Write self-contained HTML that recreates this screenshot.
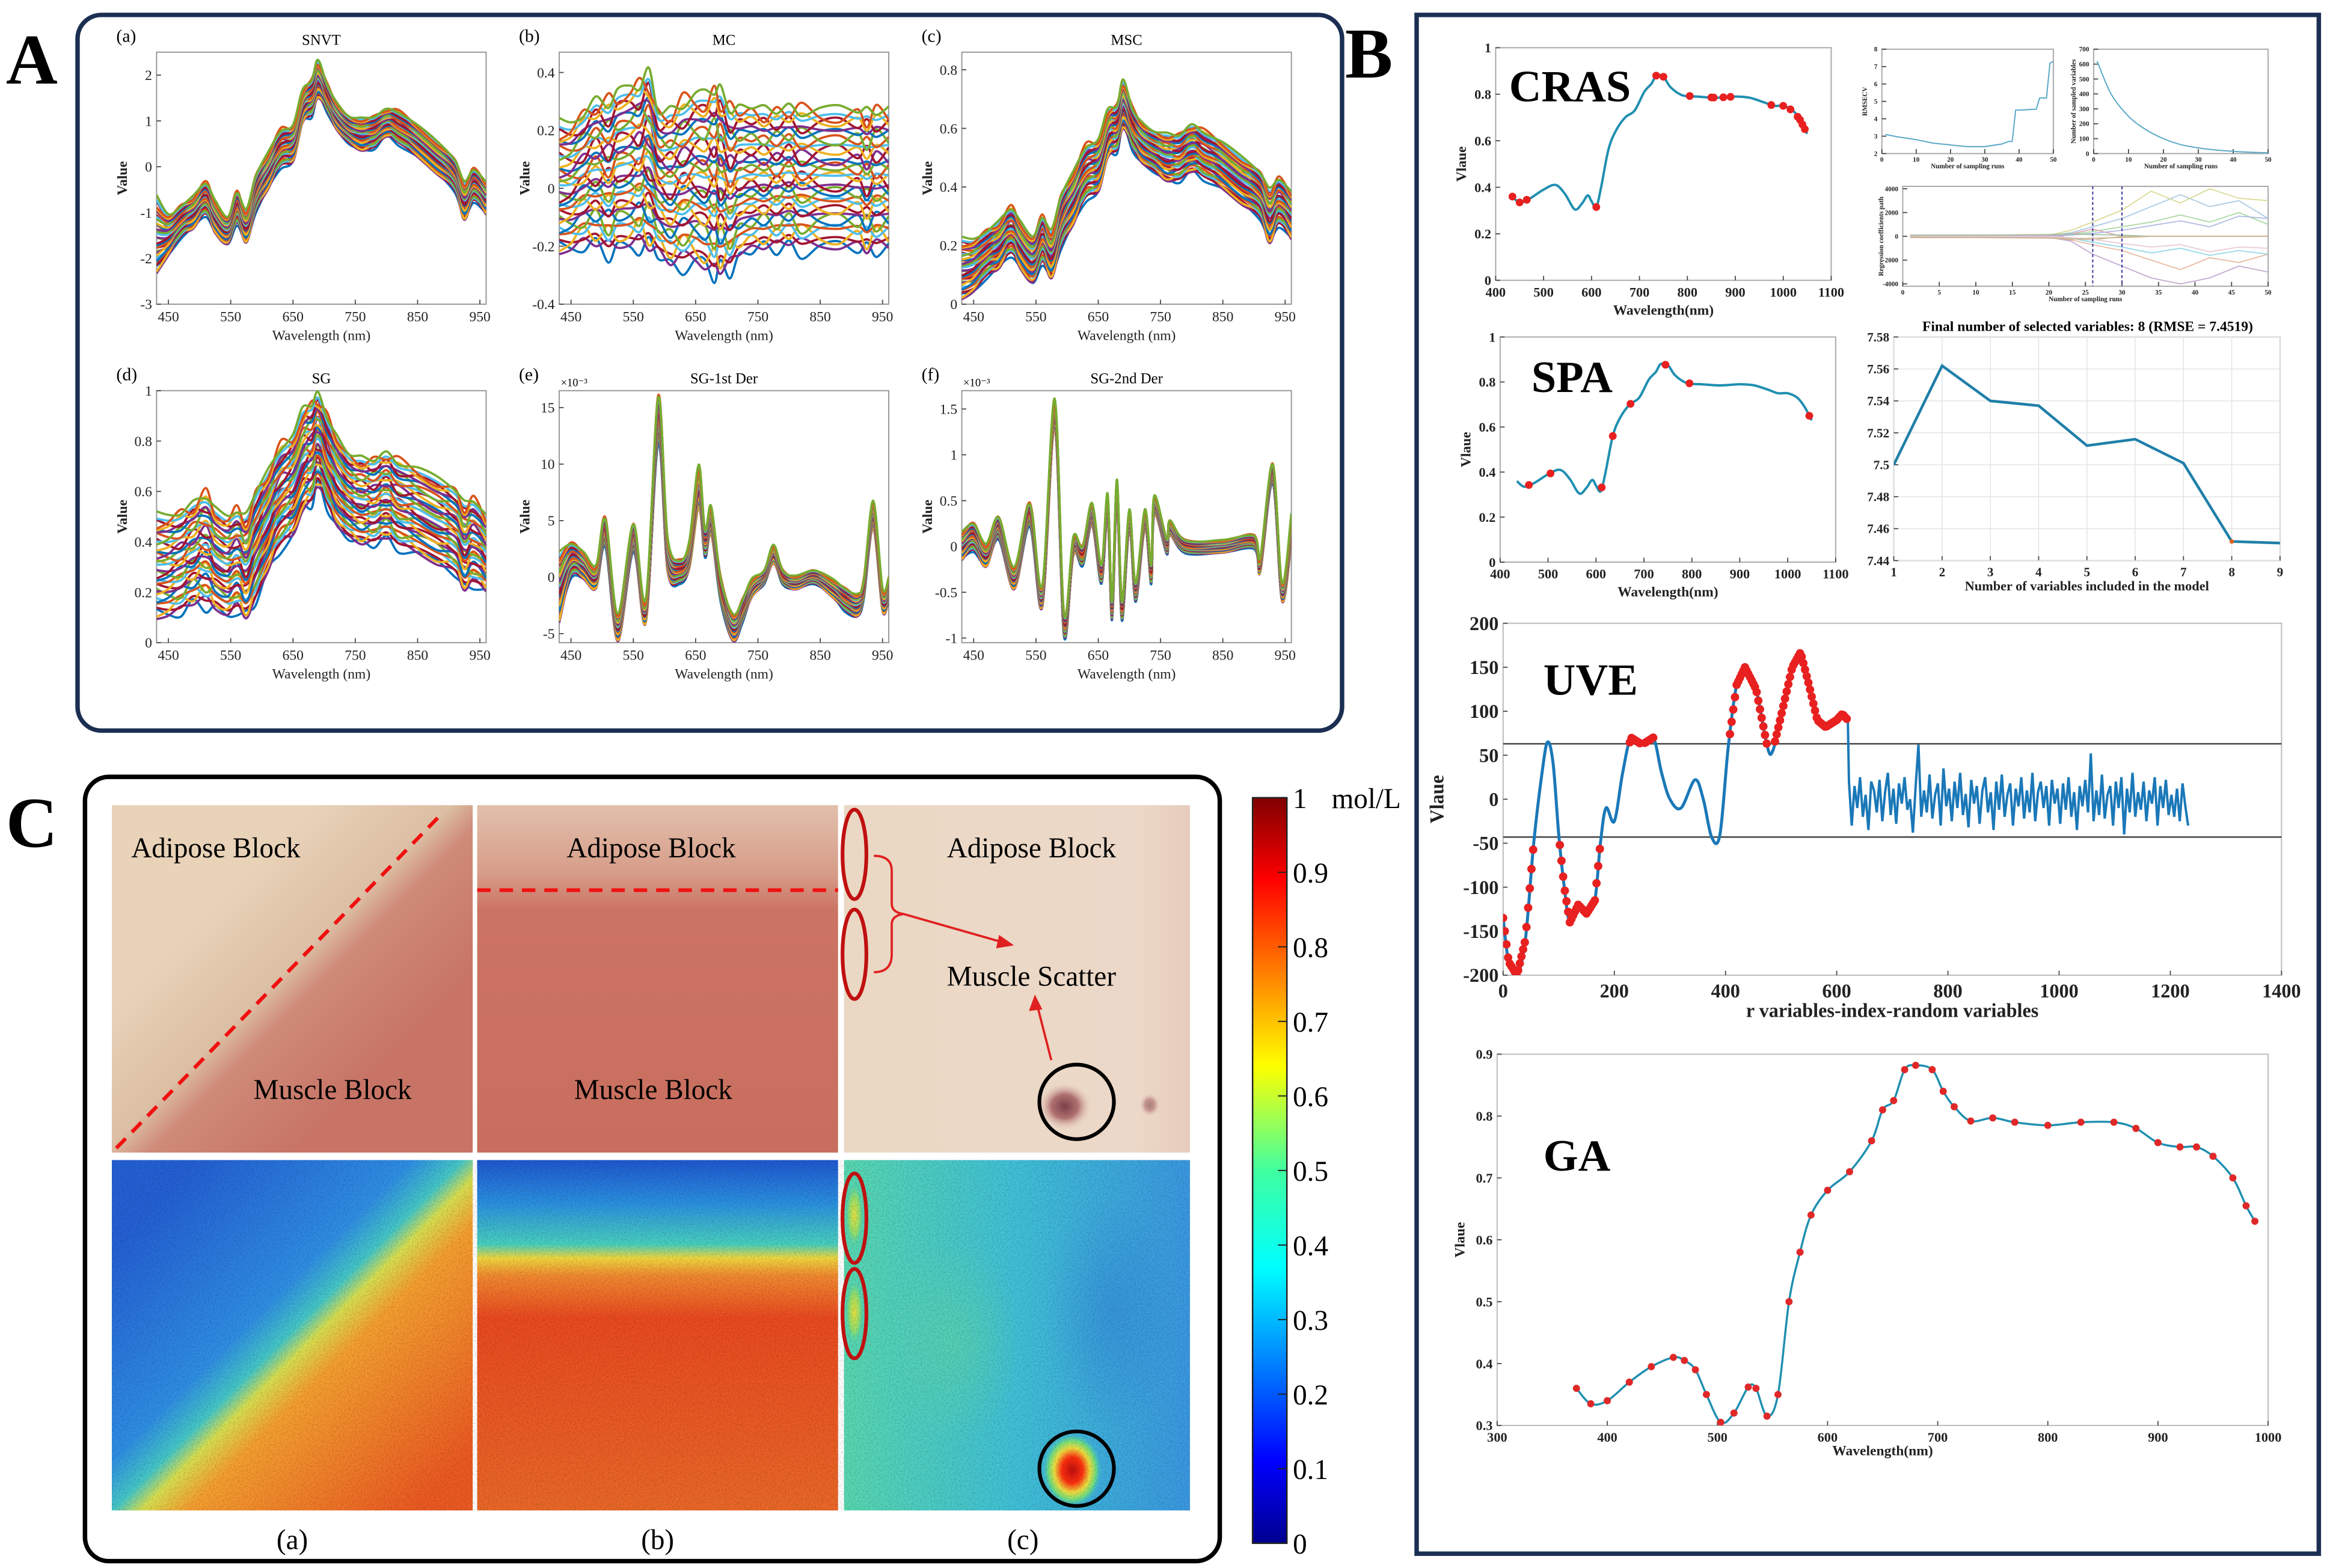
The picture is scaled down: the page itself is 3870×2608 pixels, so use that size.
<!DOCTYPE html>
<html><head><meta charset="utf-8"><title>Spectral preprocessing and variable selection figure</title>
<style>
html,body{margin:0;padding:0;background:#fff;}
svg{display:block;}
text{font-family:"Liberation Serif",serif;}
</style></head>
<body>
<svg id="fig" xmlns="http://www.w3.org/2000/svg" width="3870" height="2608" viewBox="0 0 1560.5 1051.6" preserveAspectRatio="none">
<defs>
<linearGradient id="jet" x1="0" y1="0" x2="0" y2="1">
<stop offset="0" stop-color="#800000"/><stop offset="0.11" stop-color="#ff0000"/><stop offset="0.36" stop-color="#ffff00"/><stop offset="0.5" stop-color="#40ffa0"/><stop offset="0.63" stop-color="#00ffff"/><stop offset="0.89" stop-color="#0000ff"/><stop offset="1" stop-color="#00008f"/>
</linearGradient>
<linearGradient id="hmA" gradientUnits="userSpaceOnUse" x1="110" y1="800" x2="300" y2="990">
<stop offset="0" stop-color="#2460d4"/><stop offset="0.38" stop-color="#2f8ee4"/><stop offset="0.47" stop-color="#45c8c8"/><stop offset="0.52" stop-color="#d8e050"/><stop offset="0.6" stop-color="#f5a030"/><stop offset="1" stop-color="#ec5a22"/>
</linearGradient>
<linearGradient id="hmB" gradientUnits="userSpaceOnUse" x1="0" y1="778" x2="0" y2="1013">
<stop offset="0" stop-color="#1f58d0"/><stop offset="0.12" stop-color="#2a8ee0"/><stop offset="0.24" stop-color="#48d0c0"/><stop offset="0.28" stop-color="#f0d840"/><stop offset="0.33" stop-color="#f28a30"/><stop offset="0.45" stop-color="#ea4a20"/><stop offset="1" stop-color="#ea6828"/>
</linearGradient>
<linearGradient id="hmC" x1="0" y1="0" x2="1" y2="0">
<stop offset="0" stop-color="#58d8b0"/><stop offset="0.5" stop-color="#40c0d8"/><stop offset="1" stop-color="#3a98e0"/>
</linearGradient>
<radialGradient id="hot"><stop offset="0" stop-color="#c01010"/><stop offset="0.35" stop-color="#ff3010"/><stop offset="0.6" stop-color="#f0e040"/><stop offset="0.8" stop-color="#70e080"/><stop offset="1" stop-color="#40c0d8" stop-opacity="0"/></radialGradient>
<radialGradient id="warm"><stop offset="0" stop-color="#e8e040"/><stop offset="0.6" stop-color="#90e070"/><stop offset="1" stop-color="#50d0b0" stop-opacity="0"/></radialGradient>
<radialGradient id="blob"><stop offset="0" stop-color="#60d8a0"/><stop offset="1" stop-color="#60d8a0" stop-opacity="0"/></radialGradient>
<radialGradient id="blueblob"><stop offset="0" stop-color="#2a70d8"/><stop offset="1" stop-color="#2a70d8" stop-opacity="0"/></radialGradient>
<linearGradient id="phA" gradientUnits="userSpaceOnUse" x1="140" y1="610" x2="250" y2="720">
<stop offset="0" stop-color="#e8d2b8"/><stop offset="0.42" stop-color="#dcbfa4"/><stop offset="0.56" stop-color="#cf8a78"/><stop offset="1" stop-color="#c77466"/>
</linearGradient>
<linearGradient id="phB" x1="0" y1="0" x2="0" y2="1">
<stop offset="0" stop-color="#e2c0ac"/><stop offset="0.2" stop-color="#d69c88"/><stop offset="0.3" stop-color="#cc7464"/><stop offset="1" stop-color="#c86e5e"/>
</linearGradient>
<linearGradient id="phC" x1="0" y1="0" x2="1" y2="0">
<stop offset="0" stop-color="#ead8c4"/><stop offset="0.85" stop-color="#ecd8c8"/><stop offset="1" stop-color="#e6ccbc"/>
</linearGradient>
<radialGradient id="spot"><stop offset="0" stop-color="#7a4048"/><stop offset="0.5" stop-color="#b07070"/><stop offset="1" stop-color="#e8d0c0" stop-opacity="0"/></radialGradient>
<filter id="speck" x="0" y="0" width="1" height="1"><feTurbulence type="fractalNoise" baseFrequency="0.9" numOctaves="1" result="n"/><feColorMatrix in="n" type="matrix" values="0 0 0 0 0  0 0 0 0 0  0 0 0 0 0  0 0 0 1.2 -0.45" result="m"/><feComposite in="m" in2="SourceGraphic" operator="in"/></filter>
</defs>

<rect x="52" y="10" width="848" height="480" rx="16" fill="none" stroke="#1b2f52" stroke-width="3"/>
<text x="4" y="56" font-size="48" font-weight="bold">A</text>
<rect x="950" y="10" width="605" height="1032" fill="none" stroke="#1b2f52" stroke-width="3"/>
<text x="902" y="52" font-size="48" font-weight="bold">B</text>
<rect x="57" y="521" width="761" height="526" rx="16" fill="none" stroke="#000" stroke-width="3"/>
<text x="4" y="568" font-size="48" font-weight="bold">C</text>

<g id="panelC">
<rect x="75" y="540" width="242" height="233" fill="url(#phA)"/>
<rect x="320" y="540" width="242" height="233" fill="url(#phB)"/>
<rect x="566" y="540" width="232" height="233" fill="url(#phC)"/>
<ellipse cx="714" cy="742" rx="18" ry="16" fill="url(#spot)"/>
<ellipse cx="771" cy="741" rx="7" ry="8" fill="url(#spot)" opacity="0.6"/>
<rect x="75" y="778" width="242" height="235" fill="url(#hmA)"/>
<rect x="320" y="778" width="242" height="235" fill="url(#hmB)"/>
<rect x="566" y="778" width="232" height="235" fill="url(#hmC)"/>
<ellipse cx="640" cy="900" rx="45" ry="70" fill="url(#blob)" opacity="0.5"/>
<ellipse cx="745" cy="880" rx="45" ry="80" fill="url(#blueblob)" opacity="0.35"/>
<ellipse cx="719" cy="986" rx="20" ry="25" fill="url(#hot)"/>
<ellipse cx="573" cy="815" rx="6" ry="22" fill="url(#warm)"/>
<ellipse cx="573" cy="880" rx="6" ry="22" fill="url(#warm)"/>
<rect x="75" y="778" width="723" height="235" fill="#ffffff" opacity="0.25" filter="url(#speck)"/>
<line x1="78" y1="770" x2="296" y2="546" stroke="#f01010" stroke-width="2.5" stroke-dasharray="9,6"/>
<line x1="320" y1="597" x2="562" y2="597" stroke="#f01010" stroke-width="2.5" stroke-dasharray="9,6"/>
<ellipse cx="573" cy="573" rx="8" ry="30" fill="none" stroke="#c01010" stroke-width="2.5"/>
<ellipse cx="573" cy="640" rx="8" ry="30" fill="none" stroke="#c01010" stroke-width="2.5"/>
<path d="M586,574 Q598,574 598,584 L598,606 Q598,612 606,613 Q598,614 598,620 L598,640 Q598,652 586,652" fill="none" stroke="#e02020" stroke-width="1.5"/>
<line x1="606" y1="613" x2="676" y2="633" stroke="#e02020" stroke-width="1.5"/>
<path d="M680,634 L670,627 L668,636 Z" fill="#e02020"/>
<line x1="705" y1="711" x2="695" y2="672" stroke="#e02020" stroke-width="1.5"/>
<path d="M694,667 L690,678 L699,677 Z" fill="#e02020"/>
<circle cx="722" cy="739" r="25" fill="none" stroke="#000" stroke-width="2.5"/>
<ellipse cx="573" cy="817" rx="8" ry="30" fill="none" stroke="#c01010" stroke-width="2.5"/>
<ellipse cx="573" cy="881" rx="8" ry="30" fill="none" stroke="#c01010" stroke-width="2.5"/>
<circle cx="722" cy="985" r="25" fill="none" stroke="#000" stroke-width="2.5"/>
<text x="88" y="575" font-size="19">Adipose Block</text>
<text x="170" y="737" font-size="19">Muscle Block</text>
<text x="380" y="575" font-size="19">Adipose Block</text>
<text x="385" y="737" font-size="19">Muscle Block</text>
<text x="635" y="575" font-size="19">Adipose Block</text>
<text x="635" y="661" font-size="19">Muscle Scatter</text>
<text x="196" y="1039" font-size="19" text-anchor="middle">(a)</text>
<text x="441" y="1039" font-size="19" text-anchor="middle">(b)</text>
<text x="686" y="1039" font-size="19" text-anchor="middle">(c)</text>
<rect x="840" y="535" width="23" height="500" fill="url(#jet)" stroke="#222" stroke-width="1"/>
<text x="893" y="542" font-size="19">mol/L</text>
</g>
<g id="cbTicks"></g>
<g id="panelA"></g>
<g id="panelB"></g>
</svg>

<script>
// ---------- DATA ----------
const cbTicks = [1,0.9,0.8,0.7,0.6,0.5,0.4,0.3,0.2,0.1,0];

const wl = [431,450,470,490,510,525,545,560,575,590,610,630,650,665,680,690,705,720,740,760,780,800,820,850,880,910,925,940,960];
const snvtMean = [-1.5,-1.5,-1.2,-1.0,-0.7,-1.1,-1.4,-0.9,-1.3,-0.6,-0.1,0.4,0.5,1.3,1.5,1.9,1.5,1.1,0.8,0.7,0.75,0.95,0.85,0.55,0.2,-0.2,-0.75,-0.4,-0.7];
const snvtSpread = [0.8,0.45,0.35,0.35,0.35,0.35,0.3,0.35,0.35,0.4,0.4,0.4,0.4,0.35,0.4,0.4,0.3,0.3,0.3,0.35,0.35,0.3,0.35,0.35,0.35,0.35,0.4,0.35,0.35];
const wobble = [0.6,0.2,-0.3,0.4,-0.5,0.3,0.1,-0.4,0.5,-0.2,0.3,-0.5,0.2,0.4,-0.3,0.5,-0.4,0.2,-0.1,0.4,-0.3,0.3,-0.5,0.2,0.4,-0.2,0.5,-0.4,0.3];
const mcMean = [0.0,0.0,0.03,0.05,0.04,0.06,0.07,0.08,0.09,0.02,0.0,0.02,0.03,0.02,0.02,0.02,0.0,0.02,0.03,0.03,0.03,0.04,0.03,0.03,0.03,0.03,0.02,0.03,0.03];
const mcSpread = [0.22,0.22,0.23,0.25,0.26,0.27,0.28,0.28,0.3,0.25,0.27,0.28,0.29,0.3,0.32,0.31,0.28,0.26,0.25,0.24,0.24,0.24,0.24,0.24,0.24,0.24,0.24,0.24,0.24];
const mscMean = [0.12,0.13,0.17,0.2,0.25,0.2,0.15,0.22,0.17,0.28,0.36,0.45,0.47,0.58,0.6,0.68,0.6,0.55,0.52,0.5,0.5,0.53,0.51,0.47,0.42,0.37,0.3,0.35,0.3];
const mscSpread = [0.1,0.09,0.08,0.08,0.08,0.08,0.08,0.08,0.08,0.09,0.09,0.09,0.09,0.08,0.08,0.08,0.07,0.07,0.07,0.08,0.08,0.08,0.08,0.08,0.08,0.08,0.09,0.08,0.08];
const sgMean = [0.3,0.3,0.32,0.35,0.37,0.33,0.3,0.33,0.3,0.38,0.48,0.58,0.62,0.72,0.75,0.8,0.72,0.64,0.58,0.56,0.56,0.58,0.55,0.52,0.48,0.44,0.38,0.4,0.35];
const sgSpread = [0.2,0.2,0.2,0.2,0.22,0.2,0.2,0.2,0.2,0.22,0.2,0.2,0.2,0.2,0.2,0.18,0.18,0.18,0.17,0.17,0.17,0.17,0.17,0.17,0.17,0.17,0.17,0.17,0.15];
const d1wl = [431,450,470,490,505,525,550,570,590,605,625,640,655,665,675,690,710,725,740,760,775,790,810,840,870,890,910,920,935,950,960];
const d1Mean = [-1,1.5,1,0,4,-4.5,3.5,-3,14,2,0.5,2,8,3,5,-1,-4.5,-3,-1,0,2,0,-0.5,0,-1,-2,-2.5,-1,5.5,-2,-1];
const d1Spread = [3,1.5,1.2,1,1.2,1.2,1.2,1,2,1.5,1,1.2,1.8,1.2,1.2,1,1.2,1,0.8,0.6,0.8,0.6,0.6,0.6,0.8,1,1,0.8,1.2,1,1];
const d1Wob = [0.5,-0.3,0.2,0.4,-0.4,0.3,-0.2,0.5,-0.3,0.2,-0.4,0.3,0.5,-0.2,0.4,-0.5,0.2,-0.3,0.4,-0.2,0.5,-0.4,0.3,-0.2,0.4,-0.3,0.2,-0.5,0.3,0.4,-0.2];
const d2wl = [431,450,470,490,515,540,560,580,595,610,625,640,655,665,672,680,688,700,710,725,735,740,760,765,790,850,900,910,930,945,960];
const d2Mean = [0,0.1,-0.1,0.2,-0.35,0.35,-0.55,1.45,-0.85,0,-0.1,0.35,-0.3,0.45,-0.7,0.6,-0.7,0.3,-0.5,0.3,-0.3,0.45,0,0.2,0,0,0.05,-0.2,0.8,-0.5,0.2];
const d2Spread = [0.15,0.15,0.12,0.12,0.12,0.12,0.12,0.15,0.12,0.1,0.1,0.12,0.1,0.12,0.1,0.12,0.1,0.1,0.1,0.1,0.1,0.1,0.08,0.08,0.07,0.07,0.07,0.08,0.1,0.1,0.15];
const d2Wob = [0.4,-0.3,0.5,-0.2,0.3,-0.4,0.2,0.5,-0.3,0.4,-0.5,0.2,-0.3,0.4,-0.2,0.5,-0.4,0.3,-0.2,0.4,-0.5,0.3,-0.2,0.4,-0.3,0.2,-0.4,0.5,-0.3,0.2,0.4];
const sampleOffsets = [-1,-0.93,-0.87,-0.8,-0.74,-0.68,-0.62,-0.56,-0.5,-0.44,-0.38,-0.32,-0.27,-0.21,-0.15,-0.1,-0.04,0.02,0.07,0.13,0.19,0.25,0.31,0.37,0.43,0.49,0.55,0.61,0.67,0.73,0.79,0.85,0.9,0.95,1];
const sampleShape = [0.8,-0.5,0.3,-0.9,0.6,-0.2,0.9,-0.7,0.1,0.5,-0.8,0.4,-0.3,0.7,-0.6,0.2,-0.9,0.6,-0.1,0.8,-0.4,0.3,-0.7,0.9,-0.5,0.1,0.6,-0.8,0.4,-0.2,0.7,-0.6,0.3,-0.9,0.5];
const wlTicks = [450,550,650,750,850,950];
const snvtTicks = [-3,-2,-1,0,1,2];
const mcTicks = [-0.4,-0.2,0,0.2,0.4];
const mscTicks = [0,0.2,0.4,0.6,0.8];
const sgTicks = [0,0.2,0.4,0.6,0.8,1];
const d1Ticks = [-5,0,5,10,15];
const d2Ticks = [-1,-0.5,0,0.5,1,1.5];

const specWl = [435,450,470,500,525,545,565,580,592,600,610,620,635,650,670,690,710,725,735,750,765,790,820,860,900,930,960,980,1000,1020,1035,1050];
const specVal = [0.36,0.335,0.35,0.39,0.41,0.37,0.305,0.33,0.365,0.34,0.315,0.40,0.56,0.64,0.70,0.73,0.81,0.845,0.88,0.875,0.83,0.795,0.79,0.785,0.79,0.785,0.765,0.75,0.75,0.73,0.69,0.63];
const crasSel = [435,450,465,610,735,750,805,850,855,875,890,975,1000,1015,1030,1035,1040,1045];
const spaSel = [460,505,612,635,672,745,795,1045];
const specXTicks = [400,500,600,700,800,900,1000,1100];
const specYTicks = [0,0.2,0.4,0.6,0.8,1];

const rmseRuns = [1,5,10,15,20,22,25,30,35,37,38,39,40,45,46,48,49,50];
const rmseVals = [3.1,2.95,2.8,2.6,2.5,2.45,2.4,2.4,2.55,2.7,2.7,4.5,4.5,4.55,5.2,5.2,7.2,7.3];
const nvRuns = [1,5,10,15,20,25,30,35,40,45,50];
const nvVals = [620,400,250,160,100,60,38,24,15,9,5];
const rpRuns = [1,10,20,23,26,30,34,38,42,46,50];
const rp1 = [0,0,50,300,800,1500,2500,3500,2500,3000,1500];
const rp2 = [0,0,-50,-300,-700,-1200,-2000,-2800,-1800,-2200,-1500];
const rp3 = [0,0,100,500,1200,2200,3800,2800,4000,3200,3000];
const rp4 = [0,0,-80,-400,-1500,-2500,-3500,-4000,-3500,-2500,-3000];
const rp5 = [0,0,30,150,400,800,1200,1800,1200,2000,1000];
const rp6 = [0,0,-30,-150,-500,-900,-1400,-1000,-1600,-1200,-1500];
const rp7 = [0,0,60,200,600,0,0,0,0,0,0];
const rp8 = [0,0,-40,-200,-300,0,0,0,0,0,0];
const rp9 = [0,0,20,100,250,500,900,1300,800,1700,1500];
const rp10 = [0,0,-20,-100,-250,-600,-900,-700,-1300,-900,-1000];
const rp11 = [80,100,150,200,150,100,0,0,0,0,0];
const rp12 = [-80,-100,-150,-250,-150,-100,0,0,0,0,0];
const rpCut = [26,30];
const finalN = [1,2,3,4,5,6,7,8,9];
const finalRmse = [7.5,7.562,7.54,7.537,7.512,7.516,7.501,7.452,7.451];

const uveIdx = [0,10,25,40,55,70,80,90,100,110,120,135,150,165,175,185,200,215,230,250,270,285,300,320,345,360,375,390,405,420,435,455,475,485,500,520,535,550,565,580,600,610,620];
const uveVal = [-135,-185,-200,-160,-50,30,65,40,-40,-100,-140,-120,-130,-115,-50,-10,-25,30,70,62,70,30,0,-10,22,0,-43,-40,60,130,150,125,60,55,95,150,167,130,90,82,90,97,90];
const uveNoise = [20,-30,15,-10,25,-20,5,-35,20,10,-15,22,-25,8,30,-18,12,-28,18,-5,25,-12,0,-38,15,62,-20,10,-15,28,-22,5,18,-30,35,-8,12,-25,20,-10,30,-18,6,-32,22,-5,15,-28,10,25,-15,8,-35,20,-12,28,-20,5,18,-30,12,-8,25,-22,10,-15,30,-25,8,20,-10,15,-30,22,-5,12,-28,18,-12,25,-20,8,-35,15,-8,22,-15,52,-25,10,-18,28,-22,5,15,-30,20,-10,25,-40,12,-15,30,-20,8,-12,20,-25,10,-5,25,-30,15,-10,22,-18,5,-20,12,-25,18,-8,-30];
const uveThresh = [63,-43];
const uveXTicks = [0,200,400,600,800,1000,1200,1400];
const uveYTicks = [-200,-150,-100,-50,0,50,100,150,200];

const gaWl = [372,385,400,420,440,460,470,480,490,503,515,528,535,545,555,565,575,585,600,620,640,650,660,670,680,695,705,715,730,750,770,800,830,860,880,900,920,935,950,968,980,988];
const gaVal = [0.36,0.335,0.34,0.37,0.395,0.41,0.405,0.39,0.35,0.305,0.32,0.362,0.36,0.315,0.35,0.5,0.58,0.64,0.68,0.71,0.76,0.81,0.825,0.875,0.882,0.875,0.84,0.815,0.792,0.797,0.79,0.785,0.79,0.79,0.78,0.757,0.75,0.75,0.735,0.70,0.655,0.63];
const gaXTicks = [300,400,500,600,700,800,900,1000];
const gaYTicks = [0.3,0.4,0.5,0.6,0.7,0.8,0.9];

// ---------- HELPERS ----------
const NS = 'http://www.w3.org/2000/svg';
const palette = ['#0072BD','#D95319','#EDB120','#7E2F8E','#77AC30','#4DBEEE','#A2142F'];
const pastel = ['#a8c8e0','#e8b8a0','#d8d890','#c0a8d0','#a8d8a0','#90d8e8','#e0a0b0','#c8c8a0','#b0b8e0','#e8c8d8','#a0c0a0','#d0b090'];
function mk(tag, parent, attrs){ const e = document.createElementNS(NS, tag); for (const k in attrs) e.setAttribute(k, attrs[k]); parent.appendChild(e); return e; }
function smoothPath(pts){
  if (pts.length < 2) return '';
  let d = 'M' + pts[0][0].toFixed(2) + ',' + pts[0][1].toFixed(2);
  for (let i = 0; i < pts.length - 1; i++){
    const p0 = pts[Math.max(0,i-1)], p1 = pts[i], p2 = pts[i+1], p3 = pts[Math.min(pts.length-1,i+2)];
    const c1x = p1[0] + (p2[0]-p0[0])/6, c1y = p1[1] + (p2[1]-p0[1])/6;
    const c2x = p2[0] - (p3[0]-p1[0])/6, c2y = p2[1] - (p3[1]-p1[1])/6;
    d += 'C' + c1x.toFixed(2)+','+c1y.toFixed(2)+' '+c2x.toFixed(2)+','+c2y.toFixed(2)+' '+p2[0].toFixed(2)+','+p2[1].toFixed(2);
  }
  return d;
}
function linPath(pts){ return 'M' + pts.map(p => p[0].toFixed(2)+','+p[1].toFixed(2)).join('L'); }
function interp(xs, ys, x){
  if (x <= xs[0]) return ys[0];
  for (let i = 0; i < xs.length-1; i++) if (x <= xs[i+1]) { const t = (x-xs[i])/(xs[i+1]-xs[i]); return ys[i] + t*(ys[i+1]-ys[i]); }
  return ys[ys.length-1];
}
function fmt(v){ return String(Math.round(v*1000)/1000); }
let clipN = 0;
function axes(parent, o){
  const g = mk('g', parent, {});
  
  
  const sx = v => o.x0 + (v - o.xmin)/(o.xmax - o.xmin)*(o.x1 - o.x0);
  const sy = v => o.y1 - (v - o.ymin)/(o.ymax - o.ymin)*(o.y1 - o.y0);
  const frame = mk('rect', g, {x:o.x0, y:o.y0, width:o.x1-o.x0, height:o.y1-o.y0, fill:'#fff', stroke:o.frameColor||'#555', 'stroke-width':o.sw||0.8});
  
  
  const fw = o.bold ? 'bold' : 'normal';
  o.xt.forEach(t => {
    const X = sx(t);
    if (o.grid) { const gl = mk('line', g, {x1:X, y1:o.y0, x2:X, y2:o.y1, stroke:'#e4e4e4', 'stroke-width':0.6});   }
    const tk = mk('line', g, {x1:X, y1:o.y1, x2:X, y2:o.y1-3, stroke:'#444', 'stroke-width':0.7});
    
    
    const tx = mk('text', g, {x:X, y:o.y1 + o.fs + (o.xpad||2), 'font-size':o.fs, 'text-anchor':'middle', 'font-weight':fw, fill:'#222'});
    tx.textContent = fmt(t);
    
    
  });
  o.yt.forEach(t => {
    const Y = sy(t);
    if (o.grid) { const gl = mk('line', g, {x1:o.x0, y1:Y, x2:o.x1, y2:Y, stroke:'#e4e4e4', 'stroke-width':0.6});   }
    const tk = mk('line', g, {x1:o.x0, y1:Y, x2:o.x0+3, y2:Y, stroke:'#444', 'stroke-width':0.7});
    
    
    const tx = mk('text', g, {x:o.x0 - 3, y:Y + o.fs*0.35, 'font-size':o.fs, 'text-anchor':'end', 'font-weight':fw, fill:'#222'});
    tx.textContent = fmt(t);
    
    
  });
  if (o.xlabel) {
    const xl = mk('text', g, {x:(o.x0+o.x1)/2, y:o.y1 + o.fs*2 + (o.xlpad||5), 'font-size':o.lfs||o.fs, 'text-anchor':'middle', 'font-weight':o.boldLabel?'bold':'normal', fill:'#222'});
    xl.textContent = o.xlabel;
    
    
  }
  if (o.ylabel) {
    const yx = o.x0 - (o.ylx || 22), yy = (o.y0+o.y1)/2;
    const yl = mk('text', g, {x:yx, y:yy, 'font-size':o.lfs||o.fs, 'text-anchor':'middle', 'font-weight':'bold', fill:'#222', transform:'rotate(-90 '+yx+' '+yy+')'});
    yl.textContent = o.ylabel;
    
    
  }
  const id = 'clip' + (clipN++);
  const cp = mk('clipPath', g, {id:id});
  mk('rect', cp, {x:o.x0, y:o.y0, width:o.x1-o.x0, height:o.y1-o.y0});
  const plot = mk('g', g, {'clip-path':'url(#'+id+')'});
  
  
  return {sx, sy, g, plot};
}

// ---------- COLORBAR TICKS ----------
const cbG = document.getElementById('cbTicks');
cbTicks.forEach(v => {
  const y = 1035 - v*500;
  const t = mk('line', cbG, {x1:857, y1:y, x2:863, y2:y, stroke:'#222', 'stroke-width':0.8});
  
  
  const tx = mk('text', cbG, {x:867, y:y+7, 'font-size':19});
  tx.textContent = String(v);
  
  
});

// ---------- PANEL A ----------
const PA = document.getElementById('panelA');
const colL = [105,375,645], rowT = [35,262], W = 221, H = 169;
const specs = [
  {name:'snvt', title:'SNVT', tag:'(a)', c:0, r:0, x:wl, m:snvtMean, s:snvtSpread, w:wobble, ymin:-3, ymax:2.5, yt:snvtTicks},
  {name:'mc', title:'MC', tag:'(b)', c:1, r:0, x:wl, m:mcMean, s:mcSpread, w:wobble, ymin:-0.4, ymax:0.47, yt:mcTicks},
  {name:'msc', title:'MSC', tag:'(c)', c:2, r:0, x:wl, m:mscMean, s:mscSpread, w:wobble, ymin:0, ymax:0.86, yt:mscTicks},
  {name:'sg', title:'SG', tag:'(d)', c:0, r:1, x:wl, m:sgMean, s:sgSpread, w:wobble, ymin:0, ymax:1.0, yt:sgTicks},
  {name:'sg-1st-der', title:'SG-1st Der', tag:'(e)', c:1, r:1, x:d1wl, m:d1Mean, s:d1Spread, w:d1Wob, ymin:-5.8, ymax:16.5, yt:d1Ticks, exp:true},
  {name:'sg-2nd-der', title:'SG-2nd Der', tag:'(f)', c:2, r:1, x:d2wl, m:d2Mean, s:d2Spread, w:d2Wob, ymin:-1.05, ymax:1.7, yt:d2Ticks, exp:true}
];
specs.forEach(p => {
  const x0 = colL[p.c], y0 = rowT[p.r];
  const ax = axes(PA, {name:p.name, x0:x0, x1:x0+W, y0:y0, y1:y0+H, xmin:431, xmax:960, ymin:p.ymin, ymax:p.ymax, xt:wlTicks, yt:p.yt, fs:9.5, xlabel:'Wavelength (nm)', ylabel:'Value', ylx:20, lfs:9.5, frameColor:'#999'});
  sampleOffsets.forEach((k, i) => {
    const sh = sampleShape[i];
    const pts = p.x.map((xv, j) => [ax.sx(xv), ax.sy(p.m[j] + p.s[j]*(k + 0.35*sh*p.w[j]))]);
    const ln = mk('path', ax.plot, {d:smoothPath(pts), fill:'none', stroke:palette[(i*3) % palette.length], 'stroke-width':1.5});
    
    
  });
  const tt = mk('text', PA, {x:x0 + W/2, y:y0 - 5, 'font-size':10, 'text-anchor':'middle'});
  tt.textContent = p.title;
  
  
  const tg = mk('text', PA, {x:x0 - 27, y:y0 - 7, 'font-size':12});
  tg.textContent = p.tag;
  
  
  if (p.exp) {
    const ex = mk('text', PA, {x:x0 + 1, y:y0 - 3, 'font-size':7.5});
    ex.textContent = '×10⁻³';
    
    
  }
});

// ---------- PANEL B ----------
const PB = document.getElementById('panelB');
function specPlot(name, x0, x1, y0, y1, sel, label, lx, ly){
  const ax = axes(PB, {name:name, x0:x0, x1:x1, y0:y0, y1:y1, xmin:400, xmax:1100, ymin:0, ymax:1, xt:specXTicks, yt:specYTicks, fs:9, bold:true, xlabel:'Wavelength(nm)', ylabel:'Vlaue', ylx:20, lfs:9.5, boldLabel:true, frameColor:'#aaa'});
  const pts = specWl.map((w,i) => [ax.sx(w), ax.sy(specVal[i])]);
  const ln = mk('path', ax.plot, {d:smoothPath(pts), fill:'none', stroke:'#1f8fb0', 'stroke-width':1.6});
  
  
  sel.forEach(w => {
    const c = mk('circle', ax.plot, {cx:ax.sx(w), cy:ax.sy(interp(specWl, specVal, w)), r:2.6, fill:'#e82020'});
    
    
  });
  const t = mk('text', PB, {x:lx, y:ly, 'font-size':30, 'font-weight':'bold'});
  t.textContent = label;
  
  
}
specPlot('cras', 1003, 1228, 32, 188, crasSel, 'CRAS', 1012, 68);
specPlot('spa', 1006, 1231, 226, 377, spaSel, 'SPA', 1027, 263);

(function(){
  const ax = axes(PB, {name:'rmsecv', x0:1262, x1:1377, y0:33, y1:103, xmin:0, xmax:50, ymin:2, ymax:8, xt:[0,10,20,30,40,50], yt:[2,3,4,5,6,7,8], fs:4.5, bold:true, xlabel:'Number of sampling runs', ylabel:'RMSECV', ylx:10, lfs:4.5, boldLabel:true, frameColor:'#aaa', xpad:1, xlpad:1});
  const ln = mk('path', ax.plot, {d:linPath(rmseRuns.map((r,i)=>[ax.sx(r), ax.sy(rmseVals[i])])), fill:'none', stroke:'#5aa8c8', 'stroke-width':0.8});
  
  
})();
(function(){
  const ax = axes(PB, {name:'sampled-variables', x0:1404, x1:1521, y0:33, y1:103, xmin:0, xmax:50, ymin:0, ymax:700, xt:[0,10,20,30,40,50], yt:[0,100,200,300,400,500,600,700], fs:4.5, bold:true, xlabel:'Number of sampling runs', ylabel:'Number of sampled variables', ylx:12, lfs:4.5, boldLabel:true, frameColor:'#aaa', xpad:1, xlpad:1});
  const ln = mk('path', ax.plot, {d:smoothPath(nvRuns.map((r,i)=>[ax.sx(r), ax.sy(nvVals[i])])), fill:'none', stroke:'#5aa8c8', 'stroke-width':0.8});
  
  
})();
(function(){
  const ax = axes(PB, {name:'regression-path', x0:1276, x1:1521, y0:125, y1:192, xmin:0, xmax:50, ymin:-4200, ymax:4200, xt:[0,5,10,15,20,25,30,35,40,45,50], yt:[-4000,-2000,0,2000,4000], fs:4.5, bold:true, xlabel:'Number of sampling runs', ylabel:'Regression coefficients path', ylx:13, lfs:4.5, boldLabel:true, frameColor:'#aaa', xpad:1, xlpad:1});
  const band = mk('rect', ax.plot, {x:ax.sx(1), y:ax.sy(150), width:ax.sx(22)-ax.sx(1), height:ax.sy(-150)-ax.sy(150), fill:'#b09080', opacity:0.7});
  
  
  [rp1,rp2,rp3,rp4,rp5,rp6,rp7,rp8,rp9,rp10,rp11,rp12].forEach((arr, i) => {
    const ln = mk('path', ax.plot, {d:linPath(rpRuns.map((r,j)=>[ax.sx(r), ax.sy(arr[j])])), fill:'none', stroke:pastel[i], 'stroke-width':0.7});
    
    
  });
  rpCut.forEach(c => {
    const dl = mk('line', ax.plot, {x1:ax.sx(c), y1:125, x2:ax.sx(c), y2:192, stroke:'#3a3aa0', 'stroke-width':0.8, 'stroke-dasharray':'2,1.5'});
    
    
  });
})();
(function(){
  const ax = axes(PB, {name:'spa-rmse', x0:1270, x1:1529, y0:226, y1:376, xmin:1, xmax:9, ymin:7.44, ymax:7.58, xt:finalN, yt:[7.44,7.46,7.48,7.5,7.52,7.54,7.56,7.58], fs:8.5, bold:true, xlabel:'Number of variables included in the model', lfs:9, boldLabel:true, grid:true, frameColor:'#aaa', xlpad:3});
  const ln = mk('path', ax.plot, {d:linPath(finalN.map((n,i)=>[ax.sx(n), ax.sy(finalRmse[i])])), fill:'none', stroke:'#1f7fa8', 'stroke-width':1.8});
  
  
  const mkr = mk('circle', ax.plot, {cx:ax.sx(8), cy:ax.sy(finalRmse[7]), r:1.5, fill:'#e06020'});
  
  
  const tt = mk('text', PB, {x:1400, y:222, 'font-size':9.5, 'font-weight':'bold', 'text-anchor':'middle'});
  tt.textContent = 'Final number of selected variables: 8  (RMSE = 7.4519)';
  
  
})();
(function(){
  const ax = axes(PB, {name:'uve', x0:1008, x1:1530, y0:418, y1:654, xmin:0, xmax:1400, ymin:-200, ymax:200, xt:uveXTicks, yt:uveYTicks, fs:13, bold:true, xlabel:'r      variables-index-random variables', ylabel:'Vlaue', ylx:40, lfs:13, boldLabel:true, frameColor:'#bbb', xlpad:2});
  uveThresh.forEach(t => {
    const l = mk('line', ax.plot, {x1:1008, y1:ax.sy(t), x2:1530, y2:ax.sy(t), stroke:'#444', 'stroke-width':1});
    
    
  });
  const pts = uveIdx.map((x,i)=>[ax.sx(x), ax.sy(uveVal[i])]);
  const ln = mk('path', ax.plot, {d:smoothPath(pts), fill:'none', stroke:'#1a78b8', 'stroke-width':2});
  
  
  const npts = [[ax.sx(620), ax.sy(uveVal[uveVal.length-1])]].concat(uveNoise.map((v,i)=>[ax.sx(622 + i*5), ax.sy(v)]).filter((p,i)=> 622+i*5 <= 1240));
  const nl = mk('path', ax.plot, {d:linPath(npts), fill:'none', stroke:'#1a78b8', 'stroke-width':1.6});
  
  
  for (let i = 0; i <= 620; i += 3) {
    const v = interp(uveIdx, uveVal, i);
    if (v > uveThresh[0] || v < uveThresh[1]) {
      const c = mk('circle', ax.plot, {cx:ax.sx(i), cy:ax.sy(v), r:2.8, fill:'#e82020'});
      
      
    }
  }
  const t = mk('text', PB, {x:1035, y:466, 'font-size':30, 'font-weight':'bold'});
  t.textContent = 'UVE';
  
  
})();
(function(){
  const ax = axes(PB, {name:'ga', x0:1004, x1:1521, y0:707, y1:956, xmin:300, xmax:1000, ymin:0.3, ymax:0.9, xt:gaXTicks, yt:gaYTicks, fs:9, bold:true, xlabel:'Wavelength(nm)', ylabel:'Vlaue', ylx:22, lfs:9.5, boldLabel:true, frameColor:'#bbb', xlpad:2});
  const ln = mk('path', ax.plot, {d:smoothPath(gaWl.map((w,i)=>[ax.sx(w), ax.sy(gaVal[i])])), fill:'none', stroke:'#1f8fb0', 'stroke-width':1.4});
  
  
  gaWl.forEach((w,i) => {
    const c = mk('circle', ax.plot, {cx:ax.sx(w), cy:ax.sy(gaVal[i]), r:2.4, fill:'#e02828'});
    
    
  });
  const t = mk('text', PB, {x:1035, y:785, 'font-size':30, 'font-weight':'bold'});
  t.textContent = 'GA';
  
  
})();
</script>
</body></html>
